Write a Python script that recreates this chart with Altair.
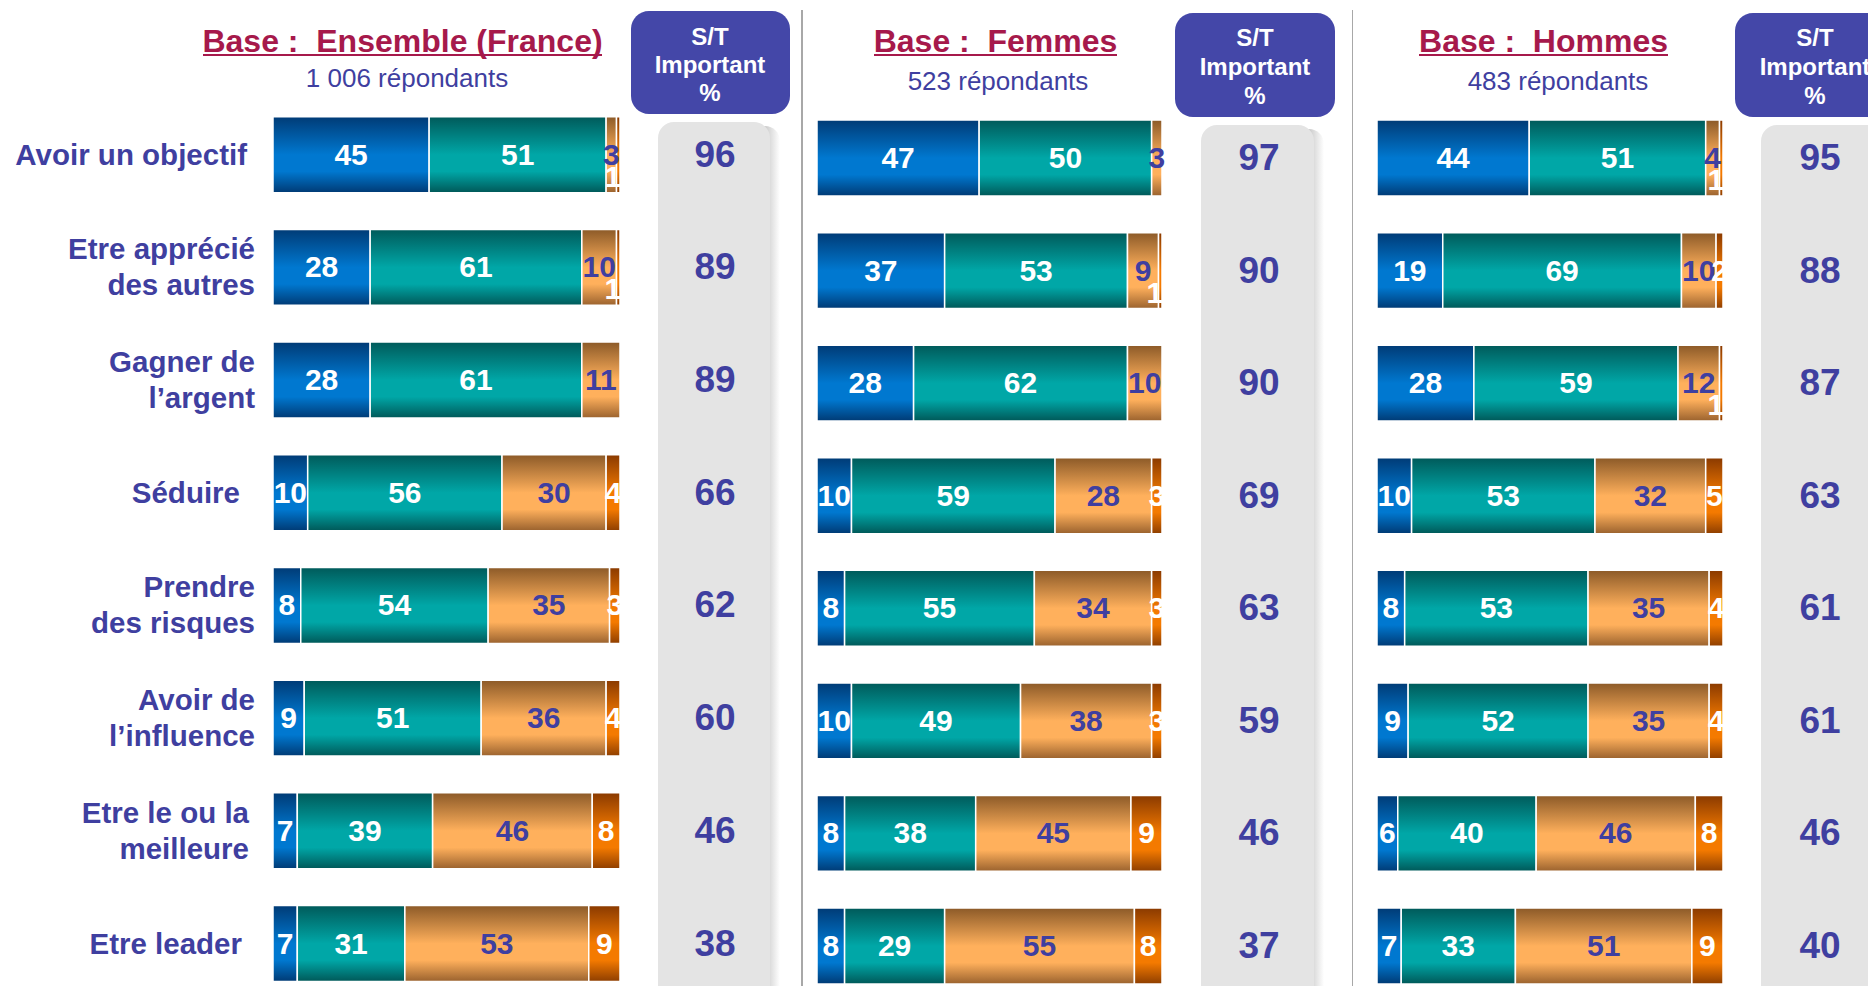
import altair as alt
import pandas as pd

FONT = "Liberation Sans, Arial, sans-serif"
INDIGO = "#3F3FA0"
CRIMSON = "#A6194B"

items = ["Avoir un objectif", "Etre apprécié\ndes autres", "Gagner de\nl’argent", "Séduire",
         "Prendre\ndes risques", "Avoir de\nl’influence", "Etre le ou la\nmeilleure", "Etre leader"]

# Ensemble (France)
ens_c1 = [45, 28, 28, 10, 8, 9, 7, 7]
ens_c2 = [51, 61, 61, 56, 54, 51, 39, 31]
ens_c3 = [3, 10, 11, 30, 35, 36, 46, 53]
ens_c4 = [1, 1, 0, 4, 3, 4, 8, 9]
ens_st = [96, 89, 89, 66, 62, 60, 46, 38]

# Femmes
fem_c1 = [47, 37, 28, 10, 8, 10, 8, 8]
fem_c2 = [50, 53, 62, 59, 55, 49, 38, 29]
fem_c3 = [3, 9, 10, 28, 34, 38, 45, 55]
fem_c4 = [0, 1, 0, 3, 3, 3, 9, 8]
fem_st = [97, 90, 90, 69, 63, 59, 46, 37]

# Hommes
hom_c1 = [44, 19, 28, 10, 8, 9, 6, 7]
hom_c2 = [51, 69, 59, 53, 53, 52, 40, 33]
hom_c3 = [4, 10, 12, 32, 35, 35, 46, 51]
hom_c4 = [1, 2, 1, 5, 4, 4, 8, 9]
hom_st = [95, 88, 87, 63, 61, 61, 46, 40]

titles = ["Base :\u00a0 Ensemble (France)", "Base :\u00a0 Femmes", "Base :\u00a0 Hommes"]
subtitles = ["1 006 répondants", "523 répondants", "483 répondants"]
st_header = ["S/T", "Important", "%"]

# styling: horizontal nudge of each row label's right edge (px)
LABEL_NUDGE = [-8, 0, 0, -15, 0, 0, -6, -13]

H = 978


def grad(dark, bright, dark2):
    return alt.Gradient(
        gradient="linear", x1=0, x2=0, y1=0, y2=1,
        stops=[alt.GradientStop(offset=0, color=dark),
               alt.GradientStop(offset=0.5, color=bright),
               alt.GradientStop(offset=0.72, color=bright),
               alt.GradientStop(offset=1, color=dark2)])


GRADS = [grad("#003B76", "#0078D0", "#003A74"),
         grad("#005A5A", "#00A7A7", "#005858"),
         grad("#8C5A28", "#FFB05C", "#9A622E"),
         grad("#8A3A00", "#F47A00", "#8E3E00")]

SHADOW = alt.Gradient(
    gradient="linear", x1=0, x2=1, y1=0, y2=0,
    stops=[alt.GradientStop(offset=0, color="#B8B8B8"),
           alt.GradientStop(offset=0.55, color="#CFCFCF"),
           alt.GradientStop(offset=1, color="#FFFFFF")])

one = pd.DataFrame({"k": [0]})


def panel(c_lists, st, title, subtitle, g, labels=False):
    rows = []
    for k, vals in enumerate(c_lists):
        for r, v in enumerate(vals):
            rows.append({"r": r, "k": k, "v": v})
    df = pd.DataFrame(rows)
    xs = alt.Scale(domain=[0, 100], range=g["bar"], nice=False, zero=False)
    ys = alt.Scale(domain=[0, 7], range=g["rows"], nice=False, zero=False)
    W = g["w"]
    row_px = (g["rows"][1] - g["rows"][0]) / 7.0

    layers = []
    deco = alt.Chart(one)
    if g.get("sep") is not None:
        layers.append(deco.mark_rule(color="#A8A8A8", strokeWidth=2, clip=True).encode(
            x=alt.value(g["sep"]), y=alt.value(2), y2=alt.value(H)))
    gx0, gx1 = g["gray"]
    # shadow + gray column
    layers.append(deco.mark_rect(fill=SHADOW, cornerRadius=16, clip=True).encode(
        x=alt.value(gx1 - 20), x2=alt.value(gx1 + 10), y=alt.value(g["gray_top"] + 4), y2=alt.value(H + 30)))
    layers.append(deco.mark_rect(fill="#E4E4E4", cornerRadius=16, clip=True).encode(
        x=alt.value(gx0), x2=alt.value(gx1), y=alt.value(g["gray_top"]), y2=alt.value(H + 30)))
    # header box
    hx0, hx1 = g["head"]
    hy0, hy1 = g["head_y"]
    layers.append(deco.mark_rect(fill="#4447A8", cornerRadius=18, clip=True).encode(
        x=alt.value(hx0), x2=alt.value(hx1), y=alt.value(hy0), y2=alt.value(hy1)))
    layers.append(deco.mark_text(text=st_header, fontSize=24, fontWeight="bold", color="white",
                                 lineHeight=g["head_lh"], align="center", baseline="middle", font=FONT,
                                 clip=True).encode(
        x=alt.value(g["head_tx"]), y=alt.value(g["head_ty"] - g["head_lh"] + 1)))
    # title + underline
    layers.append(deco.mark_text(text=title, fontSize=32, fontWeight="bold", color=CRIMSON,
                                 align="center", baseline="alphabetic", font=FONT).encode(
        x=alt.value(g["title_x"]), y=alt.value(44)))
    ux0, ux1 = g["uline"]
    layers.append(deco.mark_rule(color=CRIMSON, strokeWidth=2).encode(
        x=alt.value(ux0), x2=alt.value(ux1), y=alt.value(47)))
    layers.append(deco.mark_text(text=subtitle, fontSize=26, color=INDIGO,
                                 align="center", baseline="alphabetic", font=FONT).encode(
        x=alt.value(g["sub_x"]), y=alt.value(g["sub_y"])))

    base = alt.Chart(df).transform_stack(
        stack="v", groupby=["r"], as_=["x0", "x1"], sort=[alt.SortField("k")]
    ).transform_calculate(
        xm="(datum.x0 + datum.x1) / 2", ya="datum.r - 0.337", yb="datum.r + 0.337"
    )
    for k in range(4):
        layers.append(base.transform_filter(f"datum.k == {k} && datum.v > 0").mark_rect(
            fill=GRADS[k], stroke="white", strokeWidth=1.5).encode(
            x=alt.X("x0:Q", scale=xs, axis=None), x2="x1:Q",
            y=alt.Y("ya:Q", scale=ys, axis=None), y2="yb:Q"))
    layers.append(base.transform_filter("datum.v > 0 && !(datum.k == 3 && datum.v == 1)").mark_text(
        fontSize=30, fontWeight="bold", align="center", baseline="middle", dy=1, font=FONT).encode(
        x=alt.X("xm:Q", scale=xs, axis=None), y=alt.Y("r:Q", scale=ys, axis=None),
        text="v:Q",
        color=alt.condition("datum.k == 2", alt.value(INDIGO), alt.value("white"))))
    layers.append(base.transform_filter("datum.k == 3 && datum.v == 1").mark_text(
        fontSize=30, fontWeight="bold", align="right", baseline="middle", dy=23, dx=3,
        color="white", font=FONT).encode(
        x=alt.X("xm:Q", scale=xs, axis=None), y=alt.Y("r:Q", scale=ys, axis=None), text="v:Q"))

    stdf = pd.DataFrame({"r": list(range(len(st))), "st": st})
    layers.append(alt.Chart(stdf).mark_text(
        fontSize=37, fontWeight="bold", color=INDIGO, align="center", baseline="middle", dy=1,
        font=FONT).encode(
        x=alt.value(g["st_x"]), y=alt.Y("r:Q", scale=ys, axis=None), text="st:Q"))

    if labels:
        lrows = []
        for r, lab in enumerate(items):
            parts = lab.split("\n")
            for li, p in enumerate(parts):
                lrows.append({"r": r, "li": li, "n": len(parts), "line": p,
                              "lx": g["lab_x"] + LABEL_NUDGE[r]})
        ldf = pd.DataFrame(lrows)
        step = 36.0 / row_px
        layers.append(alt.Chart(ldf).transform_calculate(
            yl=f"datum.r + (datum.li - (datum.n - 1) / 2) * {step}"
        ).mark_text(
            fontSize=29.5, fontWeight="bold", color=INDIGO, align="right", baseline="middle",
            dy=1, font=FONT).encode(
            x=alt.X("lx:Q", scale=None, axis=None), y=alt.Y("yl:Q", scale=ys, axis=None),
            text="line:N"))

    return alt.layer(*layers).properties(width=W, height=H)


G1 = dict(w=793, bar=[265, 612], rows=[146.7, 935.5], gray=[650, 762], gray_top=114,
          head=[623, 782], head_y=[3, 106], head_tx=702, head_ty=57, head_lh=28,
          title_x=394.5, uline=[195, 594], sub_x=399, sub_y=79, st_x=707, lab_x=247, sep=None)
G2 = dict(w=551, bar=[16, 361], rows=[150, 938], gray=[400, 513], gray_top=117,
          head=[374, 534], head_y=[5, 109], head_tx=454, head_ty=59, head_lh=29,
          title_x=194.5, uline=[73, 316], sub_x=197, sub_y=82, st_x=458, sep=1)
G3 = dict(w=516, bar=[25, 371], rows=[150, 938], gray=[409, 560], gray_top=117,
          head=[383, 570], head_y=[5, 109], head_tx=463, head_ty=59, head_lh=29,
          title_x=191.5, uline=[67, 316], sub_x=206, sub_y=82, st_x=468, sep=0)

p1 = panel([ens_c1, ens_c2, ens_c3, ens_c4], ens_st, titles[0], subtitles[0], G1, labels=True)
p2 = panel([fem_c1, fem_c2, fem_c3, fem_c4], fem_st, titles[1], subtitles[1], G2)
p3 = panel([hom_c1, hom_c2, hom_c3, hom_c4], hom_st, titles[2], subtitles[2], G3)

chart = alt.hconcat(p1, p2, p3, spacing=0, bounds="flush").properties(
    padding=0
).configure(font=FONT).configure_view(strokeWidth=0, stroke=None)

chart.save("out.html", embed_options={"renderer": "svg", "actions": False})
